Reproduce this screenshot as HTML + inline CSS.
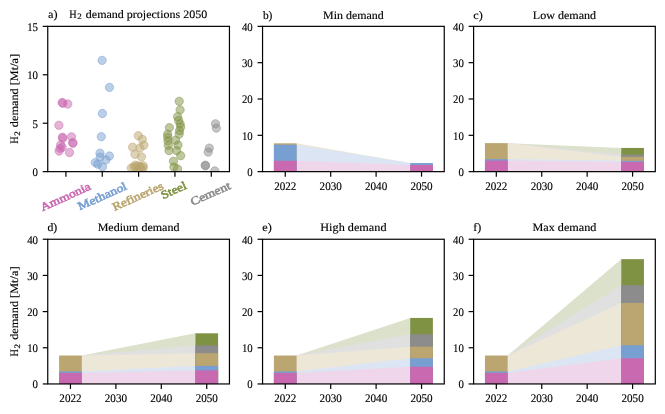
<!DOCTYPE html>
<html><head><meta charset="utf-8"><title>H2 demand projections</title>
<style>
html,body{margin:0;padding:0;background:#fff;}
body{width:665px;height:414px;overflow:hidden;}
svg{display:block;will-change:transform;font-family:"Liberation Serif",serif;}
</style></head><body>
<svg width="665" height="414" viewBox="0 0 665 414" shape-rendering="geometricPrecision" text-rendering="geometricPrecision">
<rect width="665" height="414" fill="#fff"/>
<clipPath id="ca"><rect x="47.75" y="26.35" width="181.7" height="145.3"/></clipPath>
<g clip-path="url(#ca)">
<circle cx="62.1" cy="102.5" r="4.15" fill="#c969b0" fill-opacity="0.5" stroke="#c969b0" stroke-opacity="0.5" stroke-width="1.0"/>
<circle cx="62.9" cy="103.3" r="4.15" fill="#c969b0" fill-opacity="0.5" stroke="#c969b0" stroke-opacity="0.5" stroke-width="1.0"/>
<circle cx="67.8" cy="104.0" r="4.15" fill="#c969b0" fill-opacity="0.5" stroke="#c969b0" stroke-opacity="0.5" stroke-width="1.0"/>
<circle cx="58.9" cy="125.3" r="4.15" fill="#c969b0" fill-opacity="0.5" stroke="#c969b0" stroke-opacity="0.5" stroke-width="1.0"/>
<circle cx="62.4" cy="137.2" r="4.15" fill="#c969b0" fill-opacity="0.5" stroke="#c969b0" stroke-opacity="0.5" stroke-width="1.0"/>
<circle cx="62.7" cy="138.4" r="4.15" fill="#c969b0" fill-opacity="0.5" stroke="#c969b0" stroke-opacity="0.5" stroke-width="1.0"/>
<circle cx="71.5" cy="136.8" r="4.15" fill="#c969b0" fill-opacity="0.5" stroke="#c969b0" stroke-opacity="0.5" stroke-width="1.0"/>
<circle cx="72.6" cy="142.6" r="4.15" fill="#c969b0" fill-opacity="0.5" stroke="#c969b0" stroke-opacity="0.5" stroke-width="1.0"/>
<circle cx="73.0" cy="143.3" r="4.15" fill="#c969b0" fill-opacity="0.5" stroke="#c969b0" stroke-opacity="0.5" stroke-width="1.0"/>
<circle cx="60.7" cy="144.9" r="4.15" fill="#c969b0" fill-opacity="0.5" stroke="#c969b0" stroke-opacity="0.5" stroke-width="1.0"/>
<circle cx="62.2" cy="147.4" r="4.15" fill="#c969b0" fill-opacity="0.5" stroke="#c969b0" stroke-opacity="0.5" stroke-width="1.0"/>
<circle cx="60.1" cy="148.4" r="4.15" fill="#c969b0" fill-opacity="0.5" stroke="#c969b0" stroke-opacity="0.5" stroke-width="1.0"/>
<circle cx="59.1" cy="151.0" r="4.15" fill="#c969b0" fill-opacity="0.5" stroke="#c969b0" stroke-opacity="0.5" stroke-width="1.0"/>
<circle cx="69.5" cy="152.5" r="4.15" fill="#c969b0" fill-opacity="0.5" stroke="#c969b0" stroke-opacity="0.5" stroke-width="1.0"/>
<circle cx="102.1" cy="60.4" r="4.15" fill="#789fd2" fill-opacity="0.5" stroke="#789fd2" stroke-opacity="0.5" stroke-width="1.0"/>
<circle cx="109.5" cy="87.4" r="4.15" fill="#789fd2" fill-opacity="0.5" stroke="#789fd2" stroke-opacity="0.5" stroke-width="1.0"/>
<circle cx="102.4" cy="113.5" r="4.15" fill="#789fd2" fill-opacity="0.5" stroke="#789fd2" stroke-opacity="0.5" stroke-width="1.0"/>
<circle cx="101.3" cy="136.7" r="4.15" fill="#789fd2" fill-opacity="0.5" stroke="#789fd2" stroke-opacity="0.5" stroke-width="1.0"/>
<circle cx="100.0" cy="153.2" r="4.15" fill="#789fd2" fill-opacity="0.5" stroke="#789fd2" stroke-opacity="0.5" stroke-width="1.0"/>
<circle cx="100.2" cy="157.1" r="4.15" fill="#789fd2" fill-opacity="0.5" stroke="#789fd2" stroke-opacity="0.5" stroke-width="1.0"/>
<circle cx="109.4" cy="156.0" r="4.15" fill="#789fd2" fill-opacity="0.5" stroke="#789fd2" stroke-opacity="0.5" stroke-width="1.0"/>
<circle cx="106.0" cy="159.9" r="4.15" fill="#789fd2" fill-opacity="0.5" stroke="#789fd2" stroke-opacity="0.5" stroke-width="1.0"/>
<circle cx="95.3" cy="162.6" r="4.15" fill="#789fd2" fill-opacity="0.5" stroke="#789fd2" stroke-opacity="0.5" stroke-width="1.0"/>
<circle cx="97.8" cy="164.2" r="4.15" fill="#789fd2" fill-opacity="0.5" stroke="#789fd2" stroke-opacity="0.5" stroke-width="1.0"/>
<circle cx="102.5" cy="166.8" r="4.15" fill="#789fd2" fill-opacity="0.5" stroke="#789fd2" stroke-opacity="0.5" stroke-width="1.0"/>
<circle cx="138.3" cy="135.7" r="4.15" fill="#bba570" fill-opacity="0.5" stroke="#bba570" stroke-opacity="0.5" stroke-width="1.0"/>
<circle cx="142.3" cy="139.3" r="4.15" fill="#bba570" fill-opacity="0.5" stroke="#bba570" stroke-opacity="0.5" stroke-width="1.0"/>
<circle cx="143.9" cy="145.2" r="4.15" fill="#bba570" fill-opacity="0.5" stroke="#bba570" stroke-opacity="0.5" stroke-width="1.0"/>
<circle cx="132.6" cy="147.2" r="4.15" fill="#bba570" fill-opacity="0.5" stroke="#bba570" stroke-opacity="0.5" stroke-width="1.0"/>
<circle cx="139.9" cy="147.9" r="4.15" fill="#bba570" fill-opacity="0.5" stroke="#bba570" stroke-opacity="0.5" stroke-width="1.0"/>
<circle cx="135.0" cy="154.3" r="4.15" fill="#bba570" fill-opacity="0.5" stroke="#bba570" stroke-opacity="0.5" stroke-width="1.0"/>
<circle cx="141.5" cy="156.9" r="4.15" fill="#bba570" fill-opacity="0.5" stroke="#bba570" stroke-opacity="0.5" stroke-width="1.0"/>
<circle cx="131.3" cy="168.0" r="4.15" fill="#bba570" fill-opacity="0.5" stroke="#bba570" stroke-opacity="0.5" stroke-width="1.0"/>
<circle cx="135.3" cy="165.2" r="4.15" fill="#bba570" fill-opacity="0.5" stroke="#bba570" stroke-opacity="0.5" stroke-width="1.0"/>
<circle cx="137.9" cy="165.8" r="4.15" fill="#bba570" fill-opacity="0.5" stroke="#bba570" stroke-opacity="0.5" stroke-width="1.0"/>
<circle cx="140.6" cy="166.5" r="4.15" fill="#bba570" fill-opacity="0.5" stroke="#bba570" stroke-opacity="0.5" stroke-width="1.0"/>
<circle cx="143.2" cy="165.8" r="4.15" fill="#bba570" fill-opacity="0.5" stroke="#bba570" stroke-opacity="0.5" stroke-width="1.0"/>
<circle cx="136.6" cy="167.8" r="4.15" fill="#bba570" fill-opacity="0.5" stroke="#bba570" stroke-opacity="0.5" stroke-width="1.0"/>
<circle cx="139.9" cy="168.0" r="4.15" fill="#bba570" fill-opacity="0.5" stroke="#bba570" stroke-opacity="0.5" stroke-width="1.0"/>
<circle cx="143.2" cy="168.0" r="4.15" fill="#bba570" fill-opacity="0.5" stroke="#bba570" stroke-opacity="0.5" stroke-width="1.0"/>
<circle cx="134.0" cy="167.0" r="4.15" fill="#bba570" fill-opacity="0.5" stroke="#bba570" stroke-opacity="0.5" stroke-width="1.0"/>
<circle cx="138.5" cy="171.0" r="4.15" fill="#bba570" fill-opacity="0.5" stroke="#bba570" stroke-opacity="0.5" stroke-width="1.0"/>
<circle cx="141.5" cy="170.5" r="4.15" fill="#bba570" fill-opacity="0.5" stroke="#bba570" stroke-opacity="0.5" stroke-width="1.0"/>
<circle cx="179.2" cy="101.3" r="4.15" fill="#7f9143" fill-opacity="0.5" stroke="#7f9143" stroke-opacity="0.5" stroke-width="1.0"/>
<circle cx="180.1" cy="109.9" r="4.15" fill="#7f9143" fill-opacity="0.5" stroke="#7f9143" stroke-opacity="0.5" stroke-width="1.0"/>
<circle cx="177.6" cy="116.7" r="4.15" fill="#7f9143" fill-opacity="0.5" stroke="#7f9143" stroke-opacity="0.5" stroke-width="1.0"/>
<circle cx="178.6" cy="120.4" r="4.15" fill="#7f9143" fill-opacity="0.5" stroke="#7f9143" stroke-opacity="0.5" stroke-width="1.0"/>
<circle cx="180.1" cy="123.9" r="4.15" fill="#7f9143" fill-opacity="0.5" stroke="#7f9143" stroke-opacity="0.5" stroke-width="1.0"/>
<circle cx="180.7" cy="127.0" r="4.15" fill="#7f9143" fill-opacity="0.5" stroke="#7f9143" stroke-opacity="0.5" stroke-width="1.0"/>
<circle cx="179.6" cy="130.7" r="4.15" fill="#7f9143" fill-opacity="0.5" stroke="#7f9143" stroke-opacity="0.5" stroke-width="1.0"/>
<circle cx="179.2" cy="134.1" r="4.15" fill="#7f9143" fill-opacity="0.5" stroke="#7f9143" stroke-opacity="0.5" stroke-width="1.0"/>
<circle cx="169.4" cy="127.6" r="4.15" fill="#7f9143" fill-opacity="0.5" stroke="#7f9143" stroke-opacity="0.5" stroke-width="1.0"/>
<circle cx="167.7" cy="134.1" r="4.15" fill="#7f9143" fill-opacity="0.5" stroke="#7f9143" stroke-opacity="0.5" stroke-width="1.0"/>
<circle cx="167.7" cy="137.2" r="4.15" fill="#7f9143" fill-opacity="0.5" stroke="#7f9143" stroke-opacity="0.5" stroke-width="1.0"/>
<circle cx="167.9" cy="140.9" r="4.15" fill="#7f9143" fill-opacity="0.5" stroke="#7f9143" stroke-opacity="0.5" stroke-width="1.0"/>
<circle cx="168.3" cy="145.4" r="4.15" fill="#7f9143" fill-opacity="0.5" stroke="#7f9143" stroke-opacity="0.5" stroke-width="1.0"/>
<circle cx="169.0" cy="150.6" r="4.15" fill="#7f9143" fill-opacity="0.5" stroke="#7f9143" stroke-opacity="0.5" stroke-width="1.0"/>
<circle cx="175.5" cy="140.3" r="4.15" fill="#7f9143" fill-opacity="0.5" stroke="#7f9143" stroke-opacity="0.5" stroke-width="1.0"/>
<circle cx="178.0" cy="145.0" r="4.15" fill="#7f9143" fill-opacity="0.5" stroke="#7f9143" stroke-opacity="0.5" stroke-width="1.0"/>
<circle cx="176.6" cy="150.6" r="4.15" fill="#7f9143" fill-opacity="0.5" stroke="#7f9143" stroke-opacity="0.5" stroke-width="1.0"/>
<circle cx="180.7" cy="155.7" r="4.15" fill="#7f9143" fill-opacity="0.5" stroke="#7f9143" stroke-opacity="0.5" stroke-width="1.0"/>
<circle cx="173.5" cy="161.3" r="4.15" fill="#7f9143" fill-opacity="0.5" stroke="#7f9143" stroke-opacity="0.5" stroke-width="1.0"/>
<circle cx="173.9" cy="167.0" r="4.15" fill="#7f9143" fill-opacity="0.5" stroke="#7f9143" stroke-opacity="0.5" stroke-width="1.0"/>
<circle cx="177.6" cy="169.0" r="4.15" fill="#7f9143" fill-opacity="0.5" stroke="#7f9143" stroke-opacity="0.5" stroke-width="1.0"/>
<circle cx="215.5" cy="123.8" r="4.15" fill="#8c8c8c" fill-opacity="0.5" stroke="#8c8c8c" stroke-opacity="0.5" stroke-width="1.0"/>
<circle cx="216.3" cy="128.1" r="4.15" fill="#8c8c8c" fill-opacity="0.5" stroke="#8c8c8c" stroke-opacity="0.5" stroke-width="1.0"/>
<circle cx="209.3" cy="148.1" r="4.15" fill="#8c8c8c" fill-opacity="0.5" stroke="#8c8c8c" stroke-opacity="0.5" stroke-width="1.0"/>
<circle cx="208.2" cy="152.1" r="4.15" fill="#8c8c8c" fill-opacity="0.5" stroke="#8c8c8c" stroke-opacity="0.5" stroke-width="1.0"/>
<circle cx="205.3" cy="165.2" r="4.15" fill="#8c8c8c" fill-opacity="0.5" stroke="#8c8c8c" stroke-opacity="0.5" stroke-width="1.0"/>
<circle cx="205.5" cy="165.8" r="4.15" fill="#8c8c8c" fill-opacity="0.5" stroke="#8c8c8c" stroke-opacity="0.5" stroke-width="1.0"/>
<circle cx="214.8" cy="170.9" r="4.15" fill="#8c8c8c" fill-opacity="0.5" stroke="#8c8c8c" stroke-opacity="0.5" stroke-width="1.0"/>
</g>
<rect x="47.75" y="26.35" width="181.70" height="145.30" fill="none" stroke="#000" stroke-width="1.2"/>
<line x1="42.75" y1="171.65" x2="47.75" y2="171.65" stroke="#000" stroke-width="1.2"/>
<text x="37.95" y="176.05" text-anchor="end" font-size="11.7" font-weight="normal" fill="#000" stroke="#000" stroke-width="0.14" textLength="5.40" lengthAdjust="spacingAndGlyphs" >0</text>
<line x1="42.75" y1="123.22" x2="47.75" y2="123.22" stroke="#000" stroke-width="1.2"/>
<text x="37.95" y="127.62" text-anchor="end" font-size="11.7" font-weight="normal" fill="#000" stroke="#000" stroke-width="0.14" textLength="5.40" lengthAdjust="spacingAndGlyphs" >5</text>
<line x1="42.75" y1="74.78" x2="47.75" y2="74.78" stroke="#000" stroke-width="1.2"/>
<text x="37.95" y="79.18" text-anchor="end" font-size="11.7" font-weight="normal" fill="#000" stroke="#000" stroke-width="0.14" textLength="10.80" lengthAdjust="spacingAndGlyphs" >10</text>
<line x1="42.75" y1="26.35" x2="47.75" y2="26.35" stroke="#000" stroke-width="1.2"/>
<text x="37.95" y="30.75" text-anchor="end" font-size="11.7" font-weight="normal" fill="#000" stroke="#000" stroke-width="0.14" textLength="10.80" lengthAdjust="spacingAndGlyphs" >15</text>
<line x1="65.92" y1="171.65" x2="65.92" y2="176.65" stroke="#000" stroke-width="1.2"/>
<g transform="translate(67.00,200.15) rotate(-24.2)">
<text x="0.00" y="0.00" text-anchor="middle" font-size="11.5" font-weight="normal" fill="#c969b0" textLength="53.70" lengthAdjust="spacingAndGlyphs" stroke="#c969b0" stroke-width="0.6">Ammonia</text>
</g>
<line x1="102.26" y1="171.65" x2="102.26" y2="176.65" stroke="#000" stroke-width="1.2"/>
<g transform="translate(103.70,199.65) rotate(-24.2)">
<text x="0.00" y="0.00" text-anchor="middle" font-size="11.5" font-weight="normal" fill="#789fd2" textLength="52.30" lengthAdjust="spacingAndGlyphs" stroke="#789fd2" stroke-width="0.6">Methanol</text>
</g>
<line x1="138.60" y1="171.65" x2="138.60" y2="176.65" stroke="#000" stroke-width="1.2"/>
<g transform="translate(139.35,199.75) rotate(-24.2)">
<text x="0.00" y="0.00" text-anchor="middle" font-size="11.5" font-weight="normal" fill="#bba570" textLength="54.70" lengthAdjust="spacingAndGlyphs" stroke="#bba570" stroke-width="0.6">Refineries</text>
</g>
<line x1="174.94" y1="171.65" x2="174.94" y2="176.65" stroke="#000" stroke-width="1.2"/>
<g transform="translate(175.20,193.70) rotate(-24.2)">
<text x="0.00" y="0.00" text-anchor="middle" font-size="11.5" font-weight="normal" fill="#7f9143" textLength="26.80" lengthAdjust="spacingAndGlyphs" stroke="#7f9143" stroke-width="0.6">Steel</text>
</g>
<line x1="211.28" y1="171.65" x2="211.28" y2="176.65" stroke="#000" stroke-width="1.2"/>
<g transform="translate(211.90,197.10) rotate(-24.2)">
<text x="0.00" y="0.00" text-anchor="middle" font-size="11.5" font-weight="normal" fill="#8c8c8c" textLength="42.80" lengthAdjust="spacingAndGlyphs" stroke="#8c8c8c" stroke-width="0.6">Cement</text>
</g>
<text x="48.00" y="17.50" text-anchor="start" font-size="11.4" font-weight="normal" fill="#000" stroke="#000" stroke-width="0.14" textLength="9.50" lengthAdjust="spacingAndGlyphs" >a)</text>
<text x="69.20" y="17.50" text-anchor="start" font-size="11.4" font-weight="normal" fill="#000" stroke="#000" stroke-width="0.14" textLength="7.40" lengthAdjust="spacingAndGlyphs" >H</text>
<text x="77.20" y="19.10" text-anchor="start" font-size="8.3" font-weight="normal" fill="#000" textLength="4.50" lengthAdjust="spacingAndGlyphs" stroke="#000" stroke-width="0.15">2</text>
<text x="85.80" y="17.50" text-anchor="start" font-size="11.4" font-weight="normal" fill="#000" stroke="#000" stroke-width="0.14" textLength="121.50" lengthAdjust="spacingAndGlyphs" >demand projections 2050</text>
<g transform="translate(18.2,143.80) rotate(-90)">
<text x="0.00" y="0.00" text-anchor="start" font-size="11.4" font-weight="normal" fill="#000" stroke="#000" stroke-width="0.14" textLength="7.40" lengthAdjust="spacingAndGlyphs" >H</text>
<text x="8.00" y="1.60" text-anchor="start" font-size="8.3" font-weight="normal" fill="#000" textLength="4.50" lengthAdjust="spacingAndGlyphs" stroke="#000" stroke-width="0.15">2</text>
<text x="16.60" y="0.00" text-anchor="start" font-size="11.4" font-weight="normal" fill="#000" stroke="#000" stroke-width="0.14" textLength="73.30" lengthAdjust="spacingAndGlyphs" >demand [Mt/a]</text>
</g>
<g transform="translate(18.2,356.40) rotate(-90)">
<text x="0.00" y="0.00" text-anchor="start" font-size="11.4" font-weight="normal" fill="#000" stroke="#000" stroke-width="0.14" textLength="7.40" lengthAdjust="spacingAndGlyphs" >H</text>
<text x="8.00" y="1.60" text-anchor="start" font-size="8.3" font-weight="normal" fill="#000" textLength="4.50" lengthAdjust="spacingAndGlyphs" stroke="#000" stroke-width="0.15">2</text>
<text x="16.60" y="0.00" text-anchor="start" font-size="11.4" font-weight="normal" fill="#000" stroke="#000" stroke-width="0.14" textLength="73.30" lengthAdjust="spacingAndGlyphs" >demand [Mt/a]</text>
</g>
<polygon points="296.62,171.65 410.18,171.65 410.18,163.04 296.62,143.32" fill="#ede7d8"/>
<polygon points="296.62,171.65 410.18,171.65 410.18,163.04 296.62,144.77" fill="#dbe5f3"/>
<polygon points="296.62,171.65 410.18,171.65 410.18,164.97 296.62,160.75" fill="#f0d6ea"/>
<rect x="273.91" y="143.32" width="22.71" height="28.33" fill="#bba570"/>
<rect x="410.18" y="163.04" width="22.71" height="8.61" fill="#789fd2"/>
<rect x="273.91" y="144.77" width="22.71" height="26.88" fill="#789fd2"/>
<rect x="410.18" y="164.97" width="22.71" height="6.68" fill="#c969b0"/>
<rect x="273.91" y="160.75" width="22.71" height="10.90" fill="#c969b0"/>
<rect x="262.55" y="26.35" width="181.70" height="145.30" fill="none" stroke="#000" stroke-width="1.2"/>
<line x1="257.55" y1="171.65" x2="262.55" y2="171.65" stroke="#000" stroke-width="1.2"/>
<text x="252.75" y="176.05" text-anchor="end" font-size="11.7" font-weight="normal" fill="#000" stroke="#000" stroke-width="0.14" textLength="5.40" lengthAdjust="spacingAndGlyphs" >0</text>
<line x1="257.55" y1="135.32" x2="262.55" y2="135.32" stroke="#000" stroke-width="1.2"/>
<text x="252.75" y="139.72" text-anchor="end" font-size="11.7" font-weight="normal" fill="#000" stroke="#000" stroke-width="0.14" textLength="10.80" lengthAdjust="spacingAndGlyphs" >10</text>
<line x1="257.55" y1="99.00" x2="262.55" y2="99.00" stroke="#000" stroke-width="1.2"/>
<text x="252.75" y="103.40" text-anchor="end" font-size="11.7" font-weight="normal" fill="#000" stroke="#000" stroke-width="0.14" textLength="10.80" lengthAdjust="spacingAndGlyphs" >20</text>
<line x1="257.55" y1="62.68" x2="262.55" y2="62.68" stroke="#000" stroke-width="1.2"/>
<text x="252.75" y="67.08" text-anchor="end" font-size="11.7" font-weight="normal" fill="#000" stroke="#000" stroke-width="0.14" textLength="10.80" lengthAdjust="spacingAndGlyphs" >30</text>
<line x1="257.55" y1="26.35" x2="262.55" y2="26.35" stroke="#000" stroke-width="1.2"/>
<text x="252.75" y="30.75" text-anchor="end" font-size="11.7" font-weight="normal" fill="#000" stroke="#000" stroke-width="0.14" textLength="10.80" lengthAdjust="spacingAndGlyphs" >40</text>
<line x1="285.26" y1="171.65" x2="285.26" y2="176.65" stroke="#000" stroke-width="1.2"/>
<text x="285.26" y="189.85" text-anchor="middle" font-size="11.7" font-weight="normal" fill="#000" stroke="#000" stroke-width="0.14" textLength="22.20" lengthAdjust="spacingAndGlyphs" >2022</text>
<line x1="330.69" y1="171.65" x2="330.69" y2="176.65" stroke="#000" stroke-width="1.2"/>
<text x="330.69" y="189.85" text-anchor="middle" font-size="11.7" font-weight="normal" fill="#000" stroke="#000" stroke-width="0.14" textLength="22.20" lengthAdjust="spacingAndGlyphs" >2030</text>
<line x1="376.11" y1="171.65" x2="376.11" y2="176.65" stroke="#000" stroke-width="1.2"/>
<text x="376.11" y="189.85" text-anchor="middle" font-size="11.7" font-weight="normal" fill="#000" stroke="#000" stroke-width="0.14" textLength="22.20" lengthAdjust="spacingAndGlyphs" >2040</text>
<line x1="421.54" y1="171.65" x2="421.54" y2="176.65" stroke="#000" stroke-width="1.2"/>
<text x="421.54" y="189.85" text-anchor="middle" font-size="11.7" font-weight="normal" fill="#000" stroke="#000" stroke-width="0.14" textLength="22.20" lengthAdjust="spacingAndGlyphs" >2050</text>
<text x="262.90" y="18.55" text-anchor="start" font-size="11.4" font-weight="normal" fill="#000" stroke="#000" stroke-width="0.14" textLength="9.50" lengthAdjust="spacingAndGlyphs" >b)</text>
<text x="353.40" y="18.55" text-anchor="middle" font-size="11.4" font-weight="normal" fill="#000" stroke="#000" stroke-width="0.14" textLength="60.70" lengthAdjust="spacingAndGlyphs" >Min demand</text>
<polygon points="507.67,171.65 621.23,171.65 621.23,147.93 507.67,143.13" fill="#dce1cc"/>
<polygon points="507.67,171.65 621.23,171.65 621.23,154.65 507.67,143.13" fill="#e0e0e0"/>
<polygon points="507.67,171.65 621.23,171.65 621.23,156.83 507.67,143.13" fill="#ede7d8"/>
<polygon points="507.67,171.65 621.23,171.65 621.23,160.83 507.67,159.12" fill="#dbe5f3"/>
<polygon points="507.67,171.65 621.23,171.65 621.23,161.91 507.67,160.57" fill="#f0d6ea"/>
<rect x="621.23" y="147.93" width="22.71" height="23.72" fill="#7f9143"/>
<rect x="621.23" y="154.65" width="22.71" height="17.00" fill="#8c8c8c"/>
<rect x="621.23" y="156.83" width="22.71" height="14.82" fill="#bba570"/>
<rect x="484.96" y="143.13" width="22.71" height="28.52" fill="#bba570"/>
<rect x="621.23" y="160.83" width="22.71" height="10.82" fill="#789fd2"/>
<rect x="484.96" y="159.12" width="22.71" height="12.53" fill="#789fd2"/>
<rect x="621.23" y="161.91" width="22.71" height="9.74" fill="#c969b0"/>
<rect x="484.96" y="160.57" width="22.71" height="11.08" fill="#c969b0"/>
<rect x="473.60" y="26.35" width="181.70" height="145.30" fill="none" stroke="#000" stroke-width="1.2"/>
<line x1="468.60" y1="171.65" x2="473.60" y2="171.65" stroke="#000" stroke-width="1.2"/>
<text x="463.80" y="176.05" text-anchor="end" font-size="11.7" font-weight="normal" fill="#000" stroke="#000" stroke-width="0.14" textLength="5.40" lengthAdjust="spacingAndGlyphs" >0</text>
<line x1="468.60" y1="135.32" x2="473.60" y2="135.32" stroke="#000" stroke-width="1.2"/>
<text x="463.80" y="139.72" text-anchor="end" font-size="11.7" font-weight="normal" fill="#000" stroke="#000" stroke-width="0.14" textLength="10.80" lengthAdjust="spacingAndGlyphs" >10</text>
<line x1="468.60" y1="99.00" x2="473.60" y2="99.00" stroke="#000" stroke-width="1.2"/>
<text x="463.80" y="103.40" text-anchor="end" font-size="11.7" font-weight="normal" fill="#000" stroke="#000" stroke-width="0.14" textLength="10.80" lengthAdjust="spacingAndGlyphs" >20</text>
<line x1="468.60" y1="62.68" x2="473.60" y2="62.68" stroke="#000" stroke-width="1.2"/>
<text x="463.80" y="67.08" text-anchor="end" font-size="11.7" font-weight="normal" fill="#000" stroke="#000" stroke-width="0.14" textLength="10.80" lengthAdjust="spacingAndGlyphs" >30</text>
<line x1="468.60" y1="26.35" x2="473.60" y2="26.35" stroke="#000" stroke-width="1.2"/>
<text x="463.80" y="30.75" text-anchor="end" font-size="11.7" font-weight="normal" fill="#000" stroke="#000" stroke-width="0.14" textLength="10.80" lengthAdjust="spacingAndGlyphs" >40</text>
<line x1="496.31" y1="171.65" x2="496.31" y2="176.65" stroke="#000" stroke-width="1.2"/>
<text x="496.31" y="189.85" text-anchor="middle" font-size="11.7" font-weight="normal" fill="#000" stroke="#000" stroke-width="0.14" textLength="22.20" lengthAdjust="spacingAndGlyphs" >2022</text>
<line x1="541.74" y1="171.65" x2="541.74" y2="176.65" stroke="#000" stroke-width="1.2"/>
<text x="541.74" y="189.85" text-anchor="middle" font-size="11.7" font-weight="normal" fill="#000" stroke="#000" stroke-width="0.14" textLength="22.20" lengthAdjust="spacingAndGlyphs" >2030</text>
<line x1="587.16" y1="171.65" x2="587.16" y2="176.65" stroke="#000" stroke-width="1.2"/>
<text x="587.16" y="189.85" text-anchor="middle" font-size="11.7" font-weight="normal" fill="#000" stroke="#000" stroke-width="0.14" textLength="22.20" lengthAdjust="spacingAndGlyphs" >2040</text>
<line x1="632.59" y1="171.65" x2="632.59" y2="176.65" stroke="#000" stroke-width="1.2"/>
<text x="632.59" y="189.85" text-anchor="middle" font-size="11.7" font-weight="normal" fill="#000" stroke="#000" stroke-width="0.14" textLength="22.20" lengthAdjust="spacingAndGlyphs" >2050</text>
<text x="473.30" y="18.55" text-anchor="start" font-size="11.4" font-weight="normal" fill="#000" stroke="#000" stroke-width="0.14" textLength="9.50" lengthAdjust="spacingAndGlyphs" >c)</text>
<text x="564.45" y="18.55" text-anchor="middle" font-size="11.4" font-weight="normal" fill="#000" stroke="#000" stroke-width="0.14" textLength="63.30" lengthAdjust="spacingAndGlyphs" >Low demand</text>
<polygon points="81.82,383.95 195.38,383.95 195.38,333.31 81.82,355.55" fill="#dce1cc"/>
<polygon points="81.82,383.95 195.38,383.95 195.38,345.39 81.82,355.55" fill="#e0e0e0"/>
<polygon points="81.82,383.95 195.38,383.95 195.38,353.20 81.82,355.55" fill="#ede7d8"/>
<polygon points="81.82,383.95 195.38,383.95 195.38,365.86 81.82,371.47" fill="#dbe5f3"/>
<polygon points="81.82,383.95 195.38,383.95 195.38,370.38 81.82,372.92" fill="#f0d6ea"/>
<rect x="195.38" y="333.31" width="22.71" height="50.64" fill="#7f9143"/>
<rect x="195.38" y="345.39" width="22.71" height="38.56" fill="#8c8c8c"/>
<rect x="195.38" y="353.20" width="22.71" height="30.75" fill="#bba570"/>
<rect x="59.11" y="355.55" width="22.71" height="28.40" fill="#bba570"/>
<rect x="195.38" y="365.86" width="22.71" height="18.09" fill="#789fd2"/>
<rect x="59.11" y="371.47" width="22.71" height="12.48" fill="#789fd2"/>
<rect x="195.38" y="370.38" width="22.71" height="13.57" fill="#c969b0"/>
<rect x="59.11" y="372.92" width="22.71" height="11.03" fill="#c969b0"/>
<rect x="47.75" y="239.25" width="181.70" height="144.70" fill="none" stroke="#000" stroke-width="1.2"/>
<line x1="42.75" y1="383.95" x2="47.75" y2="383.95" stroke="#000" stroke-width="1.2"/>
<text x="37.95" y="388.35" text-anchor="end" font-size="11.7" font-weight="normal" fill="#000" stroke="#000" stroke-width="0.14" textLength="5.40" lengthAdjust="spacingAndGlyphs" >0</text>
<line x1="42.75" y1="347.77" x2="47.75" y2="347.77" stroke="#000" stroke-width="1.2"/>
<text x="37.95" y="352.17" text-anchor="end" font-size="11.7" font-weight="normal" fill="#000" stroke="#000" stroke-width="0.14" textLength="10.80" lengthAdjust="spacingAndGlyphs" >10</text>
<line x1="42.75" y1="311.60" x2="47.75" y2="311.60" stroke="#000" stroke-width="1.2"/>
<text x="37.95" y="316.00" text-anchor="end" font-size="11.7" font-weight="normal" fill="#000" stroke="#000" stroke-width="0.14" textLength="10.80" lengthAdjust="spacingAndGlyphs" >20</text>
<line x1="42.75" y1="275.42" x2="47.75" y2="275.42" stroke="#000" stroke-width="1.2"/>
<text x="37.95" y="279.82" text-anchor="end" font-size="11.7" font-weight="normal" fill="#000" stroke="#000" stroke-width="0.14" textLength="10.80" lengthAdjust="spacingAndGlyphs" >30</text>
<line x1="42.75" y1="239.25" x2="47.75" y2="239.25" stroke="#000" stroke-width="1.2"/>
<text x="37.95" y="243.65" text-anchor="end" font-size="11.7" font-weight="normal" fill="#000" stroke="#000" stroke-width="0.14" textLength="10.80" lengthAdjust="spacingAndGlyphs" >40</text>
<line x1="70.46" y1="383.95" x2="70.46" y2="388.95" stroke="#000" stroke-width="1.2"/>
<text x="70.46" y="402.15" text-anchor="middle" font-size="11.7" font-weight="normal" fill="#000" stroke="#000" stroke-width="0.14" textLength="22.20" lengthAdjust="spacingAndGlyphs" >2022</text>
<line x1="115.89" y1="383.95" x2="115.89" y2="388.95" stroke="#000" stroke-width="1.2"/>
<text x="115.89" y="402.15" text-anchor="middle" font-size="11.7" font-weight="normal" fill="#000" stroke="#000" stroke-width="0.14" textLength="22.20" lengthAdjust="spacingAndGlyphs" >2030</text>
<line x1="161.31" y1="383.95" x2="161.31" y2="388.95" stroke="#000" stroke-width="1.2"/>
<text x="161.31" y="402.15" text-anchor="middle" font-size="11.7" font-weight="normal" fill="#000" stroke="#000" stroke-width="0.14" textLength="22.20" lengthAdjust="spacingAndGlyphs" >2040</text>
<line x1="206.74" y1="383.95" x2="206.74" y2="388.95" stroke="#000" stroke-width="1.2"/>
<text x="206.74" y="402.15" text-anchor="middle" font-size="11.7" font-weight="normal" fill="#000" stroke="#000" stroke-width="0.14" textLength="22.20" lengthAdjust="spacingAndGlyphs" >2050</text>
<text x="47.45" y="230.75" text-anchor="start" font-size="11.4" font-weight="normal" fill="#000" stroke="#000" stroke-width="0.14" textLength="9.80" lengthAdjust="spacingAndGlyphs" >d)</text>
<text x="138.60" y="230.75" text-anchor="middle" font-size="11.4" font-weight="normal" fill="#000" stroke="#000" stroke-width="0.14" textLength="81.80" lengthAdjust="spacingAndGlyphs" >Medium demand</text>
<polygon points="296.62,383.95 410.18,383.95 410.18,317.93 296.62,355.55" fill="#dce1cc"/>
<polygon points="296.62,383.95 410.18,383.95 410.18,334.21 296.62,355.55" fill="#e0e0e0"/>
<polygon points="296.62,383.95 410.18,383.95 410.18,346.69 296.62,355.55" fill="#ede7d8"/>
<polygon points="296.62,383.95 410.18,383.95 410.18,358.27 296.62,371.47" fill="#dbe5f3"/>
<polygon points="296.62,383.95 410.18,383.95 410.18,366.77 296.62,372.92" fill="#f0d6ea"/>
<rect x="410.18" y="317.93" width="22.71" height="66.02" fill="#7f9143"/>
<rect x="410.18" y="334.21" width="22.71" height="49.74" fill="#8c8c8c"/>
<rect x="410.18" y="346.69" width="22.71" height="37.26" fill="#bba570"/>
<rect x="273.91" y="355.55" width="22.71" height="28.40" fill="#bba570"/>
<rect x="410.18" y="358.27" width="22.71" height="25.68" fill="#789fd2"/>
<rect x="273.91" y="371.47" width="22.71" height="12.48" fill="#789fd2"/>
<rect x="410.18" y="366.77" width="22.71" height="17.18" fill="#c969b0"/>
<rect x="273.91" y="372.92" width="22.71" height="11.03" fill="#c969b0"/>
<rect x="262.55" y="239.25" width="181.70" height="144.70" fill="none" stroke="#000" stroke-width="1.2"/>
<line x1="257.55" y1="383.95" x2="262.55" y2="383.95" stroke="#000" stroke-width="1.2"/>
<text x="252.75" y="388.35" text-anchor="end" font-size="11.7" font-weight="normal" fill="#000" stroke="#000" stroke-width="0.14" textLength="5.40" lengthAdjust="spacingAndGlyphs" >0</text>
<line x1="257.55" y1="347.77" x2="262.55" y2="347.77" stroke="#000" stroke-width="1.2"/>
<text x="252.75" y="352.17" text-anchor="end" font-size="11.7" font-weight="normal" fill="#000" stroke="#000" stroke-width="0.14" textLength="10.80" lengthAdjust="spacingAndGlyphs" >10</text>
<line x1="257.55" y1="311.60" x2="262.55" y2="311.60" stroke="#000" stroke-width="1.2"/>
<text x="252.75" y="316.00" text-anchor="end" font-size="11.7" font-weight="normal" fill="#000" stroke="#000" stroke-width="0.14" textLength="10.80" lengthAdjust="spacingAndGlyphs" >20</text>
<line x1="257.55" y1="275.42" x2="262.55" y2="275.42" stroke="#000" stroke-width="1.2"/>
<text x="252.75" y="279.82" text-anchor="end" font-size="11.7" font-weight="normal" fill="#000" stroke="#000" stroke-width="0.14" textLength="10.80" lengthAdjust="spacingAndGlyphs" >30</text>
<line x1="257.55" y1="239.25" x2="262.55" y2="239.25" stroke="#000" stroke-width="1.2"/>
<text x="252.75" y="243.65" text-anchor="end" font-size="11.7" font-weight="normal" fill="#000" stroke="#000" stroke-width="0.14" textLength="10.80" lengthAdjust="spacingAndGlyphs" >40</text>
<line x1="285.26" y1="383.95" x2="285.26" y2="388.95" stroke="#000" stroke-width="1.2"/>
<text x="285.26" y="402.15" text-anchor="middle" font-size="11.7" font-weight="normal" fill="#000" stroke="#000" stroke-width="0.14" textLength="22.20" lengthAdjust="spacingAndGlyphs" >2022</text>
<line x1="330.69" y1="383.95" x2="330.69" y2="388.95" stroke="#000" stroke-width="1.2"/>
<text x="330.69" y="402.15" text-anchor="middle" font-size="11.7" font-weight="normal" fill="#000" stroke="#000" stroke-width="0.14" textLength="22.20" lengthAdjust="spacingAndGlyphs" >2030</text>
<line x1="376.11" y1="383.95" x2="376.11" y2="388.95" stroke="#000" stroke-width="1.2"/>
<text x="376.11" y="402.15" text-anchor="middle" font-size="11.7" font-weight="normal" fill="#000" stroke="#000" stroke-width="0.14" textLength="22.20" lengthAdjust="spacingAndGlyphs" >2040</text>
<line x1="421.54" y1="383.95" x2="421.54" y2="388.95" stroke="#000" stroke-width="1.2"/>
<text x="421.54" y="402.15" text-anchor="middle" font-size="11.7" font-weight="normal" fill="#000" stroke="#000" stroke-width="0.14" textLength="22.20" lengthAdjust="spacingAndGlyphs" >2050</text>
<text x="262.25" y="230.75" text-anchor="start" font-size="11.4" font-weight="normal" fill="#000" stroke="#000" stroke-width="0.14" textLength="9.50" lengthAdjust="spacingAndGlyphs" >e)</text>
<text x="353.40" y="230.75" text-anchor="middle" font-size="11.4" font-weight="normal" fill="#000" stroke="#000" stroke-width="0.14" textLength="66.20" lengthAdjust="spacingAndGlyphs" >High demand</text>
<polygon points="507.67,383.95 621.23,383.95 621.23,259.15 507.67,355.55" fill="#dce1cc"/>
<polygon points="507.67,383.95 621.23,383.95 621.23,285.19 507.67,355.55" fill="#e0e0e0"/>
<polygon points="507.67,383.95 621.23,383.95 621.23,302.92 507.67,355.55" fill="#ede7d8"/>
<polygon points="507.67,383.95 621.23,383.95 621.23,345.24 507.67,371.47" fill="#dbe5f3"/>
<polygon points="507.67,383.95 621.23,383.95 621.23,358.27 507.67,372.92" fill="#f0d6ea"/>
<rect x="621.23" y="259.15" width="22.71" height="124.80" fill="#7f9143"/>
<rect x="621.23" y="285.19" width="22.71" height="98.76" fill="#8c8c8c"/>
<rect x="621.23" y="302.92" width="22.71" height="81.03" fill="#bba570"/>
<rect x="484.96" y="355.55" width="22.71" height="28.40" fill="#bba570"/>
<rect x="621.23" y="345.24" width="22.71" height="38.71" fill="#789fd2"/>
<rect x="484.96" y="371.47" width="22.71" height="12.48" fill="#789fd2"/>
<rect x="621.23" y="358.27" width="22.71" height="25.68" fill="#c969b0"/>
<rect x="484.96" y="372.92" width="22.71" height="11.03" fill="#c969b0"/>
<rect x="473.60" y="239.25" width="181.70" height="144.70" fill="none" stroke="#000" stroke-width="1.2"/>
<line x1="468.60" y1="383.95" x2="473.60" y2="383.95" stroke="#000" stroke-width="1.2"/>
<text x="463.80" y="388.35" text-anchor="end" font-size="11.7" font-weight="normal" fill="#000" stroke="#000" stroke-width="0.14" textLength="5.40" lengthAdjust="spacingAndGlyphs" >0</text>
<line x1="468.60" y1="347.77" x2="473.60" y2="347.77" stroke="#000" stroke-width="1.2"/>
<text x="463.80" y="352.17" text-anchor="end" font-size="11.7" font-weight="normal" fill="#000" stroke="#000" stroke-width="0.14" textLength="10.80" lengthAdjust="spacingAndGlyphs" >10</text>
<line x1="468.60" y1="311.60" x2="473.60" y2="311.60" stroke="#000" stroke-width="1.2"/>
<text x="463.80" y="316.00" text-anchor="end" font-size="11.7" font-weight="normal" fill="#000" stroke="#000" stroke-width="0.14" textLength="10.80" lengthAdjust="spacingAndGlyphs" >20</text>
<line x1="468.60" y1="275.42" x2="473.60" y2="275.42" stroke="#000" stroke-width="1.2"/>
<text x="463.80" y="279.82" text-anchor="end" font-size="11.7" font-weight="normal" fill="#000" stroke="#000" stroke-width="0.14" textLength="10.80" lengthAdjust="spacingAndGlyphs" >30</text>
<line x1="468.60" y1="239.25" x2="473.60" y2="239.25" stroke="#000" stroke-width="1.2"/>
<text x="463.80" y="243.65" text-anchor="end" font-size="11.7" font-weight="normal" fill="#000" stroke="#000" stroke-width="0.14" textLength="10.80" lengthAdjust="spacingAndGlyphs" >40</text>
<line x1="496.31" y1="383.95" x2="496.31" y2="388.95" stroke="#000" stroke-width="1.2"/>
<text x="496.31" y="402.15" text-anchor="middle" font-size="11.7" font-weight="normal" fill="#000" stroke="#000" stroke-width="0.14" textLength="22.20" lengthAdjust="spacingAndGlyphs" >2022</text>
<line x1="541.74" y1="383.95" x2="541.74" y2="388.95" stroke="#000" stroke-width="1.2"/>
<text x="541.74" y="402.15" text-anchor="middle" font-size="11.7" font-weight="normal" fill="#000" stroke="#000" stroke-width="0.14" textLength="22.20" lengthAdjust="spacingAndGlyphs" >2030</text>
<line x1="587.16" y1="383.95" x2="587.16" y2="388.95" stroke="#000" stroke-width="1.2"/>
<text x="587.16" y="402.15" text-anchor="middle" font-size="11.7" font-weight="normal" fill="#000" stroke="#000" stroke-width="0.14" textLength="22.20" lengthAdjust="spacingAndGlyphs" >2040</text>
<line x1="632.59" y1="383.95" x2="632.59" y2="388.95" stroke="#000" stroke-width="1.2"/>
<text x="632.59" y="402.15" text-anchor="middle" font-size="11.7" font-weight="normal" fill="#000" stroke="#000" stroke-width="0.14" textLength="22.20" lengthAdjust="spacingAndGlyphs" >2050</text>
<text x="473.30" y="230.75" text-anchor="start" font-size="11.4" font-weight="normal" fill="#000" stroke="#000" stroke-width="0.14" textLength="8.00" lengthAdjust="spacingAndGlyphs" >f)</text>
<text x="564.45" y="230.75" text-anchor="middle" font-size="11.4" font-weight="normal" fill="#000" stroke="#000" stroke-width="0.14" textLength="64.00" lengthAdjust="spacingAndGlyphs" >Max demand</text>
</svg>
</body></html>
